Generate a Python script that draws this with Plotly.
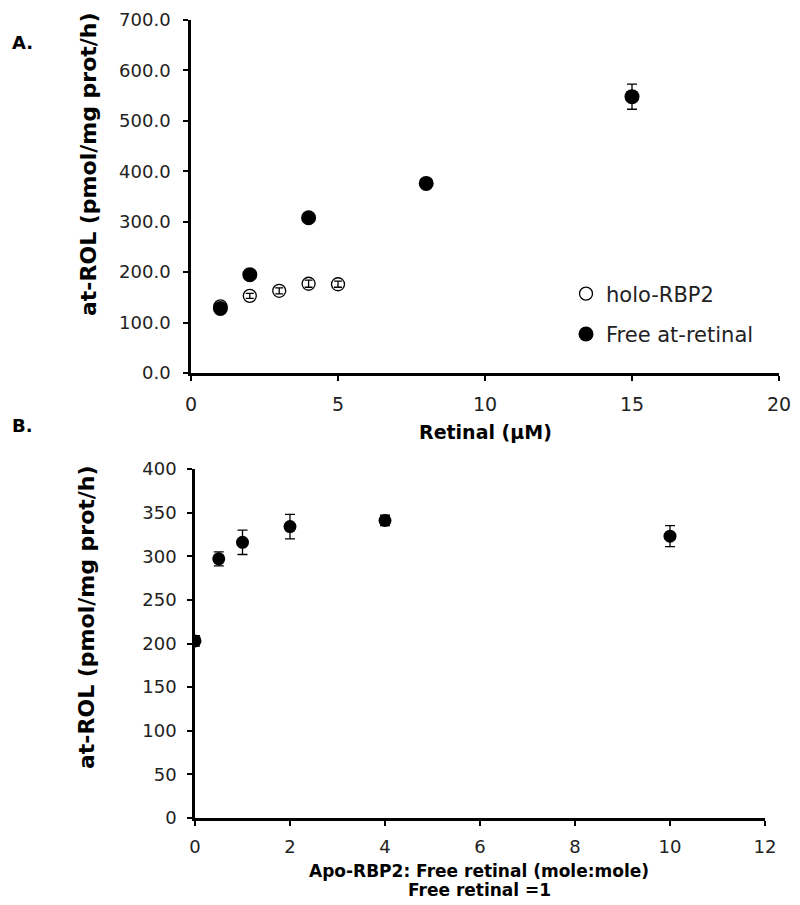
import plotly.graph_objects as go

# Panel A data
holo_x = [1, 2, 3, 4, 5]
holo_y = [132, 153, 163, 177, 176]
holo_err = [4, 5, 6, 7, 6]
free_x = [1, 2, 4, 8, 15]
free_y = [128, 195, 308, 376, 548]
free_err = [5, 5, 6, 6, 25]

# Panel B data
ratio_x = [0, 0.5, 1, 2, 4, 10]
ratio_y = [203, 297, 316, 334, 341, 323]
ratio_err = [6, 8, 14, 14, 6, 12]

FONT = "DejaVu Sans"
OFF = 8  # page body margin
W, H = 800 - OFF, 905 - OFF
fig = go.Figure()

fig.add_trace(go.Scatter(
    x=holo_x, y=holo_y, mode="markers", name="holo-RBP2",
    marker=dict(symbol="circle-open", size=13, color="black", line=dict(width=1.3)),
    error_y=dict(type="data", array=holo_err, color="black", thickness=1.3, width=4),
    xaxis="x", yaxis="y", legendgroup="a",
))
fig.add_trace(go.Scatter(
    x=free_x, y=free_y, mode="markers", name="Free at-retinal",
    marker=dict(symbol="circle", size=15, color="black"),
    error_y=dict(type="data", array=free_err, color="black", thickness=1.3, width=5),
    xaxis="x", yaxis="y", legendgroup="b",
))
fig.add_trace(go.Scatter(
    x=ratio_x, y=ratio_y, mode="markers", showlegend=False,
    marker=dict(symbol="circle", size=13, color="black"),
    error_y=dict(type="data", array=ratio_err, color="black", thickness=1.3, width=5),
    xaxis="x2", yaxis="y2",
))

def ax(size, standoff, **kw):
    d = dict(showline=True, linecolor="black", linewidth=2.5, ticks="outside",
             ticklen=5, tickwidth=2, tickcolor="black", showgrid=False,
             zeroline=False, automargin=False, ticklabelstandoff=standoff,
             ticklabeloverflow="allow",
             tickfont=dict(family=FONT, size=size, color="#222"))
    d.update(kw)
    return d

def px(x):
    return (x - OFF) / W

def py(y):
    return 1 - (y - OFF) / H

fig.update_layout(
    width=W, height=H, margin=dict(l=0, r=0, t=0, b=0),
    paper_bgcolor="white", plot_bgcolor="white",
    font=dict(family=FONT, color="black"),
    xaxis=ax(19, 7, domain=[px(191), px(779)], range=[0, 20],
             tickvals=[0, 5, 10, 15, 20], anchor="y"),
    yaxis=ax(18, 9, domain=[py(373), py(20)], range=[0, 700],
             tickvals=[0, 100, 200, 300, 400, 500, 600, 700], tickformat=".1f", anchor="x"),
    xaxis2=ax(18, 6, domain=[px(195), px(765)], range=[0, 12],
              tickvals=[0, 2, 4, 6, 8, 10, 12], anchor="y2"),
    yaxis2=ax(18, 7, domain=[py(818), py(469)], range=[0, 400],
              tickvals=list(range(0, 401, 50)), anchor="x2"),
    legend=dict(x=px(566), y=py(314), xanchor="left", yanchor="middle",
                font=dict(family=FONT, size=21, color="#222"),
                bgcolor="rgba(0,0,0,0)", tracegroupgap=10, itemwidth=30),
)

annos = [
    ("<b>A.</b>", 10, 42, 0, 18, "left"),
    ("<b>B.</b>", 10, 425, 0, 18, "left"),
    ("<b>Retinal (µM)</b>", 485, 432, 0, 19, "center"),
    ("<b>at-ROL (pmol/mg prot/h)</b>", 88, 164, -90, 22, "center"),
    ("<b>at-ROL (pmol/mg prot/h)</b>", 86, 617, -90, 22, "center"),
    ("<b>Apo-RBP2: Free retinal (mole:mole)</b>", 479, 871, 0, 17, "center"),
    ("<b>Free retinal =1</b>", 480, 890, 0, 17, "center"),
]
for text, x, y, ang, size, xa in annos:
    fig.add_annotation(text=text, x=px(x), y=py(y), xref="paper", yref="paper",
                       showarrow=False, textangle=ang, xanchor=xa, yanchor="middle",
                       font=dict(family=FONT, size=size, color="black"))

fig.write_html("out.html")
